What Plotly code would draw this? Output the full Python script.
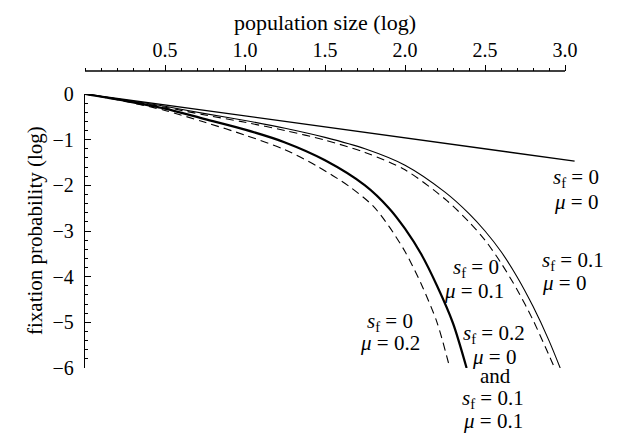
import plotly.graph_objects as go

# log10 population size vs log10 fixation probability
x_neutral = [0, 3.06]
y_neutral = [0, -1.47]

# s_f = 0.1, mu = 0 (thin solid)
x_sf01 = [0, 0.25, 0.5, 0.75, 1.0, 1.25, 1.5, 1.75, 2.0, 2.25, 2.4, 2.5, 2.6, 2.7, 2.8, 2.9, 2.97]
y_sf01 = [0, -0.13, -0.27, -0.43, -0.58, -0.75, -0.95, -1.2, -1.56, -2.15, -2.62, -3.0, -3.45, -4.0, -4.65, -5.4, -6.0]

# s_f = 0, mu = 0.1 (dashed, next to thin solid)
x_mu01 = [0, 0.25, 0.5, 0.75, 1.0, 1.25, 1.5, 1.75, 2.0, 2.25, 2.4, 2.5, 2.6, 2.7, 2.8, 2.9, 2.935]
y_mu01 = [0, -0.14, -0.29, -0.46, -0.62, -0.8, -1.01, -1.28, -1.66, -2.3, -2.8, -3.2, -3.7, -4.28, -4.95, -5.72, -6.0]

# s_f = 0.2, mu = 0  and  s_f = 0.1, mu = 0.1 (thick solid)
x_sf02 = [0, 0.25, 0.5, 0.75, 1.0, 1.25, 1.5, 1.75, 1.9, 2.0, 2.1, 2.2, 2.3, 2.385]
y_sf02 = [0, -0.15, -0.32, -0.55, -0.78, -1.06, -1.45, -2.0, -2.5, -2.95, -3.5, -4.2, -5.02, -6.0]

# s_f = 0, mu = 0.2 (dashed, outermost)
x_mu02 = [0, 0.25, 0.5, 0.75, 1.0, 1.25, 1.45, 1.65, 1.8, 1.9, 2.0, 2.1, 2.2, 2.28]
y_mu02 = [0, -0.16, -0.36, -0.62, -0.9, -1.22, -1.58, -2.02, -2.45, -2.9, -3.45, -4.15, -5.0, -6.0]

x_ticks = [0.5, 1.0, 1.5, 2.0, 2.5, 3.0]
y_ticks = [0, -1, -2, -3, -4, -5, -6]
y_ticktext = ["0", "\u22121", "\u22122", "\u22123", "\u22124", "\u22125", "\u22126"]

SF = "<i>s</i><sub>f</sub>"
MU = "<i>\u03bc</i>"
# one entry per text line of the curve labels
label_lines = [
    f"{SF} = 0", f"{MU} = 0",
    f"{SF} = 0.1", f"{MU} = 0",
    f"{SF} = 0", f"{MU} = 0.1",
    f"{SF} = 0", f"{MU} = 0.2",
    f"{SF} = 0.2", f"{MU} = 0", "and", f"{SF} = 0.1", f"{MU} = 0.1",
]

FONT = "Liberation Serif, Times New Roman, serif"
# the page adds an 8px body margin, so the figure is drawn 8px smaller
# and every target pixel position below is given in page pixels
OFF = 8
W, H = 618 - OFF, 434 - OFF


def px(x):
    return (x - OFF) / W


def py(y):
    return 1 - (y - OFF) / H


fig = go.Figure()
fig.add_trace(go.Scatter(x=x_neutral, y=y_neutral, mode="lines",
                         line=dict(color="black", width=1.3)))
fig.add_trace(go.Scatter(x=x_sf01, y=y_sf01, mode="lines",
                         line=dict(color="black", width=1.1, shape="spline", smoothing=0.8)))
fig.add_trace(go.Scatter(x=x_mu01, y=y_mu01, mode="lines",
                         line=dict(color="black", width=1.1, dash="8px,5px", shape="spline", smoothing=0.8)))
fig.add_trace(go.Scatter(x=x_sf02, y=y_sf02, mode="lines",
                         line=dict(color="black", width=2.2, shape="spline", smoothing=0.8)))
fig.add_trace(go.Scatter(x=x_mu02, y=y_mu02, mode="lines",
                         line=dict(color="black", width=1.1, dash="8px,5px", shape="spline", smoothing=0.8)))

# line placement in page pixels: (x, centre y, xanchor)
line_pos = [
    (576, 178, "center"), (576, 202, "center"),
    (540, 261, "left"), (540, 283, "left"),
    (476, 268, "center"), (474, 291, "center"),
    (390, 322, "center"), (390, 343, "center"),
    (494, 334, "center"), (494, 357, "center"), (495, 376, "center"),
    (493, 399, "center"), (493, 421, "center"),
]
for text, (lx, ly, xa) in zip(label_lines, line_pos):
    fig.add_annotation(x=px(lx), y=py(ly), xref="paper", yref="paper", text=text,
                       showarrow=False, xanchor=xa, yanchor="middle",
                       font=dict(family=FONT, size=21, color="black"))

# axis titles
fig.add_annotation(x=px(325), y=py(22), xref="paper", yref="paper", text="population size (log)",
                   showarrow=False, xanchor="center", yanchor="middle",
                   font=dict(family=FONT, size=22, color="black"))
fig.add_annotation(x=px(35), y=py(231), xref="paper", yref="paper", text="fixation probability (log)",
                   showarrow=False, xanchor="center", yanchor="middle", textangle=-90,
                   font=dict(family=FONT, size=21, color="black"))

x_axis_pos = py(71)
fig.add_shape(type="line", xref="x", yref="paper", x0=0, x1=3.0, y0=x_axis_pos, y1=x_axis_pos,
              line=dict(color="black", width=1.3))

fig.update_layout(
    width=W, height=H,
    margin=dict(l=0, r=0, t=0, b=0),
    paper_bgcolor="white", plot_bgcolor="white",
    showlegend=False,
    font=dict(family=FONT, size=20, color="black"),
    xaxis=dict(
        range=[0, 3.07], domain=[px(85), px(85 + 3.07 * 160)],
        side="top", anchor="free", position=x_axis_pos, automargin=False,
        tickvals=x_ticks, ticktext=[f"{v:.1f}" for v in x_ticks],
        ticks="outside", ticklen=6, tickwidth=1.2, tickcolor="black",
        minor=dict(dtick=0.1, tick0=0, ticks="outside", ticklen=3, tickwidth=1.1, tickcolor="black"),
        showline=False, showgrid=False, zeroline=False,
        tickfont=dict(size=20),
    ),
    yaxis=dict(
        range=[-6, 0], domain=[py(368), py(94)], automargin=False,
        tickvals=y_ticks, ticktext=y_ticktext,
        ticks="inside", ticklen=6, tickwidth=1.2, tickcolor="black",
        minor=dict(dtick=0.2, tick0=0, ticks="inside", ticklen=3, tickwidth=1.1, tickcolor="black"),
        showline=True, linecolor="black", linewidth=1.3,
        showgrid=False, zeroline=False,
        ticklabelstandoff=6,
        tickfont=dict(size=20),
    ),
)

fig.write_html("out.html")
